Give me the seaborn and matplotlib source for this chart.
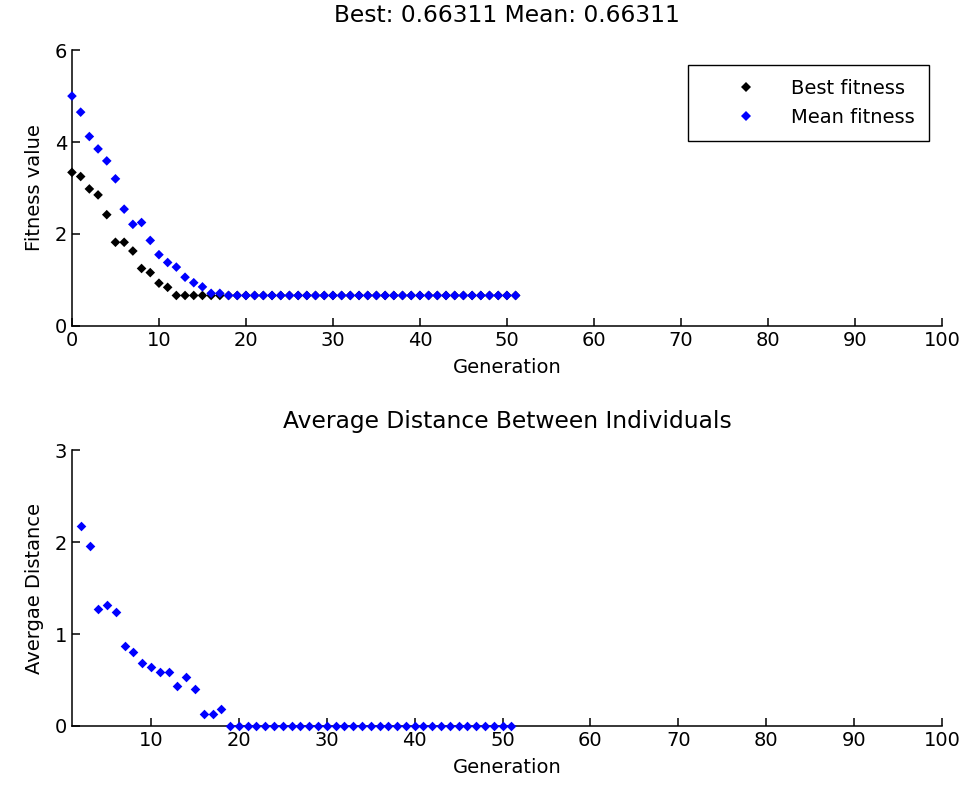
import matplotlib
matplotlib.use("Agg")
import matplotlib.pyplot as plt
import numpy as np
import pandas as pd
import seaborn as sns

sns.set_style("white")
plt.rcParams.update({'font.size': 14, 'font.family': ['DejaVu Sans'],
                     'text.color': 'black', 'axes.labelcolor': 'black',
                     'xtick.color': 'black', 'ytick.color': 'black'})

# fitness per generation
best_fit = [3.34, 3.25, 2.98, 2.85, 2.42, 1.82, 1.82, 1.63, 1.25, 1.16,
            0.93, 0.84] + [0.66311] * 40
mean_fit = [5.00, 4.65, 4.12, 3.85, 3.59, 3.20, 2.54, 2.21, 2.25, 1.86,
            1.55, 1.38, 1.28, 1.06, 0.94, 0.85, 0.71, 0.71] + [0.66311] * 34
gens = list(range(0, 52))

# average distance between individuals, generations 2..51
dist_gens = list(range(2, 52))
avg_dist = [2.17, 1.96, 1.27, 1.32, 1.24, 0.87, 0.81, 0.68, 0.64, 0.59,
            0.59, 0.44, 0.53, 0.40, 0.13, 0.13, 0.18] + [0.0] * 33

fit_df = pd.DataFrame({
    "gen": gens + gens,
    "val": best_fit + mean_fit,
    "kind": ["Best fitness"] * len(gens) + ["Mean fitness"] * len(gens),
})
dist_df = pd.DataFrame({"gen": dist_gens, "dist": avg_dist})

fig = plt.figure(figsize=(9.66, 7.95), dpi=100)
ax1 = fig.add_axes([0.0745, 0.590, 0.9005, 0.347])
ax2 = fig.add_axes([0.0745, 0.0868, 0.9005, 0.347])

sns.scatterplot(data=fit_df, x="gen", y="val", hue="kind", ax=ax1,
                palette={"Best fitness": "black", "Mean fitness": "blue"},
                marker="D", s=24, linewidth=0, clip_on=False, zorder=3)
sns.scatterplot(data=dist_df, x="gen", y="dist", ax=ax2, color="blue",
                marker="D", s=24, linewidth=0, clip_on=False, zorder=3)

ax1.set_xlim(0, 100)
ax1.set_ylim(0, 6)
ax1.set_yticks([0, 2, 4, 6])
ax1.set_xticks(range(0, 101, 10))
ax1.set_xlabel("Generation", labelpad=6)
ax1.set_ylabel("Fitness value", labelpad=8)
ax1.set_title("Best: 0.66311 Mean: 0.66311", pad=20)
leg = ax1.legend(loc="upper right", fancybox=False, edgecolor="black",
                 framealpha=1, borderpad=0.7, handletextpad=0.1,
                 labelspacing=0.55, handlelength=4.5, borderaxespad=0,
                 bbox_to_anchor=(0.985, 0.946))
leg.get_frame().set_linewidth(1.0)

ax2.set_xlim(1, 100)
ax2.set_ylim(0, 3)
ax2.set_yticks([0, 1, 2, 3])
ax2.set_xticks(range(10, 101, 10))
ax2.set_xlabel("Generation", labelpad=6)
ax2.set_ylabel("Avergae Distance", labelpad=8)
ax2.set_title("Average Distance Between Individuals", pad=16)

for ax in (ax1, ax2):
    for side in ("top", "right"):
        ax.spines[side].set_visible(False)
    for side in ("left", "bottom"):
        ax.spines[side].set_color("black")
        ax.spines[side].set_linewidth(1.1)
    ax.tick_params(direction="in", length=6, width=1.1, color="black",
                   labelsize=14, left=True, bottom=True)
    ax.grid(False)

plt.savefig("out.png", dpi=100)
